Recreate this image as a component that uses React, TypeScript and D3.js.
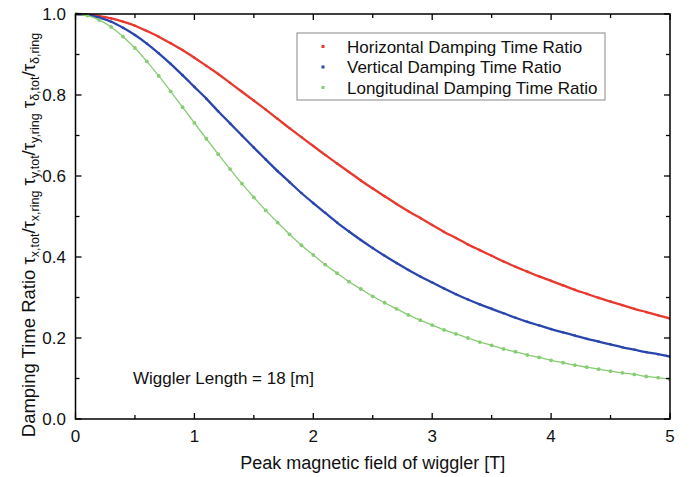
import React from "react";
import * as d3 from "d3";

const fieldT = [0, 0.1, 0.2, 0.3, 0.4, 0.5, 0.6, 0.7, 0.8, 0.9, 1.0, 1.1, 1.2, 1.3, 1.4, 1.5, 1.6, 1.7, 1.8, 1.9, 2.0, 2.1, 2.2, 2.3, 2.4, 2.5, 2.6, 2.7, 2.8, 2.9, 3.0, 3.1, 3.2, 3.3, 3.4, 3.5, 3.6, 3.7, 3.8, 3.9, 4.0, 4.1, 4.2, 4.3, 4.4, 4.5, 4.6, 4.7, 4.8, 4.9, 5.0];

const horizontal = [1.0, 0.999, 0.995, 0.989, 0.981, 0.971, 0.958, 0.944, 0.928, 0.911, 0.892, 0.872, 0.852, 0.830, 0.808, 0.786, 0.764, 0.741, 0.718, 0.696, 0.674, 0.652, 0.631, 0.610, 0.589, 0.569, 0.550, 0.531, 0.513, 0.496, 0.479, 0.462, 0.447, 0.431, 0.417, 0.403, 0.389, 0.376, 0.364, 0.352, 0.341, 0.330, 0.319, 0.309, 0.299, 0.290, 0.281, 0.272, 0.264, 0.256, 0.248];

const vertical = [1.0, 0.998, 0.991, 0.981, 0.966, 0.948, 0.927, 0.903, 0.877, 0.849, 0.820, 0.791, 0.760, 0.730, 0.700, 0.670, 0.641, 0.612, 0.585, 0.558, 0.533, 0.509, 0.485, 0.463, 0.442, 0.422, 0.403, 0.385, 0.368, 0.352, 0.337, 0.322, 0.308, 0.295, 0.283, 0.272, 0.261, 0.250, 0.240, 0.231, 0.222, 0.214, 0.206, 0.198, 0.191, 0.184, 0.177, 0.171, 0.165, 0.160, 0.154];

const longitudinal = [1.0, 0.996, 0.985, 0.968, 0.944, 0.916, 0.883, 0.847, 0.809, 0.770, 0.731, 0.692, 0.654, 0.617, 0.581, 0.547, 0.515, 0.485, 0.456, 0.429, 0.405, 0.381, 0.360, 0.339, 0.321, 0.303, 0.287, 0.272, 0.257, 0.244, 0.232, 0.220, 0.210, 0.200, 0.190, 0.182, 0.173, 0.166, 0.158, 0.152, 0.145, 0.139, 0.133, 0.128, 0.123, 0.118, 0.114, 0.110, 0.105, 0.102, 0.098];

const xTicks = [0, 1, 2, 3, 4, 5];
const xMinor = [0.5, 1.5, 2.5, 3.5, 4.5];
const yTicks = [0, 0.2, 0.4, 0.6, 0.8, 1.0];
const yMinor = [0.1, 0.3, 0.5, 0.7, 0.9];

const seriesNames = ["Horizontal Damping Time Ratio", "Vertical Damping Time Ratio", "Longitudinal Damping Time Ratio"];
const seriesColors = ["#e8392e", "#2a46ae", "#86cc72"];
const seriesData = [horizontal, vertical, longitudinal];

const FONT = "'Liberation Sans', Arial, Helvetica, sans-serif";

export default function App() {
  const W = 690, H = 477;
  const left = 75.5, right = 670, top = 14, bottom = 419;
  const x = d3.scaleLinear().domain([0, 5]).range([left, right]);
  const y = d3.scaleLinear().domain([0, 1]).range([bottom, top]);

  const line = d3.line<[number, number]>()
    .x(d => x(d[0]))
    .y(d => y(d[1]))
    .curve(d3.curveMonotoneX);

  const major = 6, minor = 4;

  return (
    <svg width={W} height={H} style={{ position: "absolute", left: 0, top: 0, background: "#fff" }} fontFamily={FONT}>
      <rect x={0} y={0} width={W} height={H} fill="#fff" />
      <defs>
        <clipPath id="plotClip">
          <rect x={left} y={top - 2} width={right - left} height={bottom - top + 2} />
        </clipPath>
      </defs>

      {/* series */}
      <g clipPath="url(#plotClip)">
        {seriesData.map((vals, si) => {
          const pts: [number, number][] = fieldT.map((t, i) => [t, vals[i]]);
          return (
            <g key={si}>
              <path d={line(pts) || ""} fill="none" stroke={seriesColors[si]} strokeWidth={si === 2 ? 1.3 : 2.3} />
              {pts.map((p, i) => (
                <circle key={i} cx={x(p[0])} cy={y(p[1])} r={si === 2 ? 1.9 : 1.3} fill={seriesColors[si]} />
              ))}
            </g>
          );
        })}
      </g>

      {/* frame */}
      <rect x={left} y={top} width={right - left} height={bottom - top} fill="none" stroke="#000" strokeWidth={1.5} />

      {/* x ticks bottom & top */}
      {xTicks.map(t => (
        <g key={"xt" + t}>
          <line x1={x(t)} x2={x(t)} y1={bottom} y2={bottom - major} stroke="#000" strokeWidth={1.3} />
          <line x1={x(t)} x2={x(t)} y1={top} y2={top + major} stroke="#000" strokeWidth={1.3} />
          <text x={x(t)} y={bottom + 23} textAnchor="middle" fontSize={17} fill="#111">{t}</text>
        </g>
      ))}
      {xMinor.map(t => (
        <g key={"xm" + t}>
          <line x1={x(t)} x2={x(t)} y1={bottom} y2={bottom - minor} stroke="#000" strokeWidth={1.3} />
          <line x1={x(t)} x2={x(t)} y1={top} y2={top + minor} stroke="#000" strokeWidth={1.3} />
        </g>
      ))}

      {/* y ticks left & right */}
      {yTicks.map(t => (
        <g key={"yt" + t}>
          <line x1={left} x2={left + major} y1={y(t)} y2={y(t)} stroke="#000" strokeWidth={1.3} />
          <line x1={right} x2={right - major} y1={y(t)} y2={y(t)} stroke="#000" strokeWidth={1.3} />
          <text x={left - 9.5} y={y(t) + 6} textAnchor="end" fontSize={17} fill="#111">{t.toFixed(1)}</text>
        </g>
      ))}
      {yMinor.map(t => (
        <g key={"ym" + t}>
          <line x1={left} x2={left + minor} y1={y(t)} y2={y(t)} stroke="#000" strokeWidth={1.3} />
          <line x1={right} x2={right - minor} y1={y(t)} y2={y(t)} stroke="#000" strokeWidth={1.3} />
        </g>
      ))}

      {/* axis titles */}
      <text x={(left + right) / 2} y={469} textAnchor="middle" fontSize={18} fill="#111">Peak magnetic field of wiggler [T]</text>

      <text transform="translate(35,235) rotate(-90)" textAnchor="middle" fontSize={18.5} fill="#111">
        <tspan>Damping Time Ratio τ</tspan>
        <tspan fontSize={12.5} dy={4}>x,tot</tspan>
        <tspan dy={-4}>/τ</tspan>
        <tspan fontSize={12.5} dy={4}>x,ring</tspan>
        <tspan dy={-4}> τ</tspan>
        <tspan fontSize={12.5} dy={4}>y,tot</tspan>
        <tspan dy={-4}>/τ</tspan>
        <tspan fontSize={12.5} dy={4}>y,ring</tspan>
        <tspan dy={-4}> τ</tspan>
        <tspan fontSize={12.5} dy={4}>δ,tot</tspan>
        <tspan dy={-4}>/τ</tspan>
        <tspan fontSize={12.5} dy={4}>δ,ring</tspan>
      </text>

      {/* annotation */}
      <text x={133} y={384} fontSize={17} fill="#111">Wiggler Length = 18 [m]</text>

      {/* legend */}
      <rect x={297} y={33} width={308} height={67} fill="#fff" stroke="#888" strokeWidth={1} />
      {seriesNames.map((n, i) => (
        <g key={n}>
          <rect x={321.5} y={45 + i * 20.5} width={3} height={3} fill={seriesColors[i]} />
          <text x={347} y={52.5 + i * 20.5} fontSize={17} fill="#111">{n}</text>
        </g>
      ))}
    </svg>
  );
}
